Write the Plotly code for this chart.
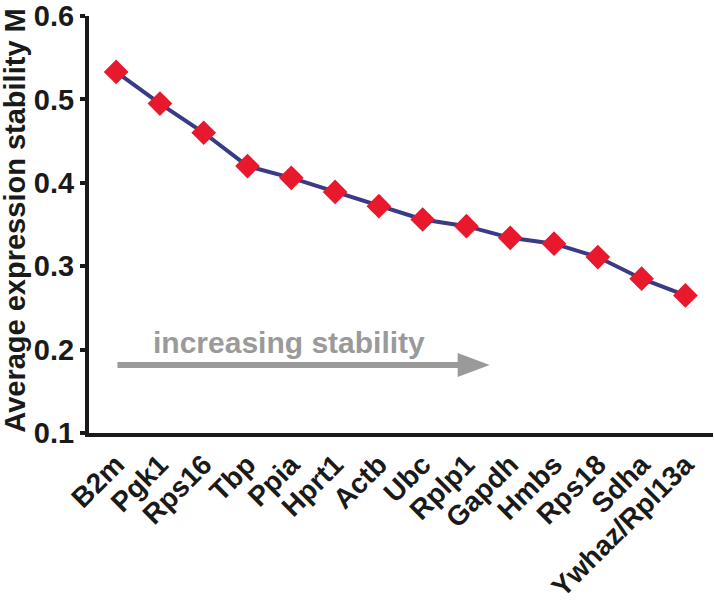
import plotly.graph_objects as go

genes = ["B2m", "Pgk1", "Rps16", "Tbp", "Ppia", "Hprt1", "Actb", "Ubc",
         "Rplp1", "Gapdh", "Hmbs", "Rps18", "Sdha", "Ywhaz/Rpl13a"]
m_values = [0.533, 0.495, 0.460, 0.420, 0.406, 0.389, 0.372, 0.356,
            0.348, 0.334, 0.327, 0.311, 0.285, 0.265]
y_ticks = [0.1, 0.2, 0.3, 0.4, 0.5, 0.6]
y_tick_labels = ["0.1", "0.2", "0.3", "0.4", "0.5", "0.6"]

FONT = "Liberation Sans, Arial, sans-serif"
INK = "#1a1a1a"
xpos = list(range(len(genes)))

fig = go.Figure()
fig.add_trace(go.Scatter(
    x=xpos, y=m_values, mode="lines+markers",
    line=dict(color="#3b3a84", width=4),
    marker=dict(symbol="diamond", size=19, color="#e8192c", line=dict(width=0)),
    hoverinfo="skip", showlegend=False,
))

# arrow: shaft + head
arrow_gray = "#9a9a9a"
fig.add_shape(type="line", xref="x", yref="y", x0=0.03, x1=7.9, y0=0.1815, y1=0.1815,
              line=dict(color=arrow_gray, width=6))
fig.add_shape(type="path", xref="x", yref="y",
              path="M 7.8 0.1960 L 8.53 0.1815 L 7.8 0.1670 Z",
              fillcolor=arrow_gray, line=dict(width=0))
fig.add_annotation(x=3.95, y=0.186, xref="x", yref="y", text="increasing stability",
                   showarrow=False, yanchor="bottom",
                   font=dict(family=FONT, size=30, color=arrow_gray, weight="bold"))

# y-axis title
fig.add_annotation(x=-0.118, y=0.51, xref="paper", yref="paper",
                   text="Average expression stability M", textangle=-90,
                   showarrow=False, xanchor="center", yanchor="middle",
                   font=dict(family=FONT, size=29, color=INK, weight="bold"))

fig.update_layout(
    width=714, height=613,
    margin=dict(l=89, r=1, t=16, b=180),
    paper_bgcolor="white", plot_bgcolor="white",
    font=dict(family=FONT, color=INK),
)
fig.update_xaxes(
    range=[-0.62, 13.63], tickmode="array", tickvals=xpos, ticktext=genes,
    tickangle=-45, ticks="", showgrid=False, zeroline=False,
    showline=True, linecolor=INK, linewidth=4, automargin=False,
    tickfont=dict(family=FONT, size=28, color=INK, weight="bold"),
    ticklabelshift=0,
)
fig.update_yaxes(
    range=[0.1, 0.6], tickmode="array", tickvals=y_ticks, ticktext=y_tick_labels,
    ticks="outside", ticklen=5, tickwidth=4, tickcolor=INK,
    showgrid=False, zeroline=False, automargin=False,
    showline=True, linecolor=INK, linewidth=4,
    tickfont=dict(family=FONT, size=29, color=INK, weight="bold"),
)

fig.write_html("out.html", config={"displayModeBar": False},
               post_script="document.body.style.margin='0';document.body.style.padding='0';")
